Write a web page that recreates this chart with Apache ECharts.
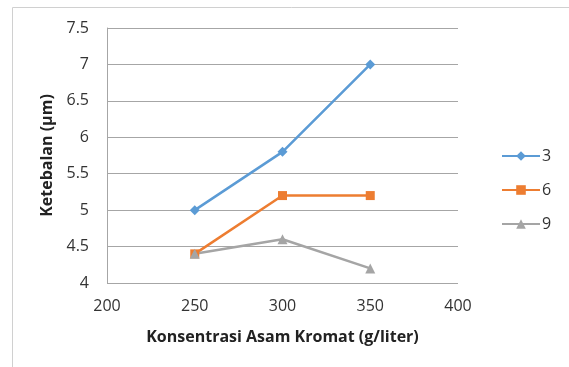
<!DOCTYPE html>
<html><head><meta charset="utf-8">
<script src="https://cdn.jsdelivr.net/npm/echarts@6/dist/echarts.min.js"></script>
<style>html,body{margin:0;padding:0;background:#fff}#c{width:569px;height:367px}</style>
</head><body><div id="c"></div>
<script>
const xValues = [250, 300, 350];
const series3 = [5.0, 5.8, 7.0];
const series6 = [4.4, 5.2, 5.2];
const series9 = [4.4, 4.6, 4.2];
const seriesNames = ['3', '6', '9'];
const xName = 'Konsentrasi Asam Kromat (g/liter)';
const yName = 'Ketebalan (µm)';

const pair = arr => xValues.map((x, i) => [x, arr[i]]);
const font = '"Open Sans", "Liberation Sans", sans-serif';
const chart = echarts.init(document.getElementById('c'));
chart.setOption({
  animation: false,
  textStyle: { fontFamily: font },
  graphic: [{ type: 'rect', shape: { x: 12.5, y: 7.5, width: 700, height: 500 }, style: { fill: 'none', stroke: '#d0d0d0', lineWidth: 1 }, z: -1 }],
  grid: { left: 107, right: 111, top: 28, height: 255 },
  legend: {
    orient: 'vertical', left: 496, top: 143, itemWidth: 38, itemHeight: 12, itemGap: 18,
    textStyle: { fontSize: 16, color: '#333', fontFamily: font, padding: [0, 0, 0, -3] },
    data: seriesNames
  },
  xAxis: {
    type: 'value', min: 200, max: 400, interval: 50,
    name: xName, nameLocation: 'middle', nameGap: 46,
    nameTextStyle: { fontWeight: 'bold', fontSize: 16, color: '#222', fontFamily: font },
    axisLine: { show: false }, axisTick: { show: false }, splitLine: { show: false },
    axisLabel: { fontSize: 16, color: '#333', margin: 15, fontFamily: font }
  },
  yAxis: {
    type: 'value', min: 4, max: 7.5, interval: 0.5,
    name: yName, nameLocation: 'middle', nameGap: 47, nameRotate: 90,
    nameTextStyle: { fontWeight: 'bold', fontSize: 16, color: '#222', fontFamily: font },
    axisLine: { show: true, lineStyle: { color: '#a6a6a6', width: 1 } }, axisTick: { show: false },
    splitLine: { lineStyle: { color: '#a6a6a6', width: 1 } },
    axisLabel: { fontSize: 16, color: '#333', margin: 18, fontFamily: font, formatter: v => String(v) }
  },
  series: [
    { name: seriesNames[0], type: 'line', data: pair(series3), symbol: 'diamond', symbolSize: 10,
      lineStyle: { color: '#5b9bd5', width: 2.5 }, itemStyle: { color: '#5b9bd5' } },
    { name: seriesNames[1], type: 'line', data: pair(series6), symbol: 'rect', symbolSize: 9,
      lineStyle: { color: '#ed7d31', width: 2.5 }, itemStyle: { color: '#ed7d31' } },
    { name: seriesNames[2], type: 'line', data: pair(series9), symbol: 'triangle', symbolSize: 10,
      lineStyle: { color: '#a5a5a5', width: 2.5 }, itemStyle: { color: '#a5a5a5' } }
  ]
});
</script></body></html>
